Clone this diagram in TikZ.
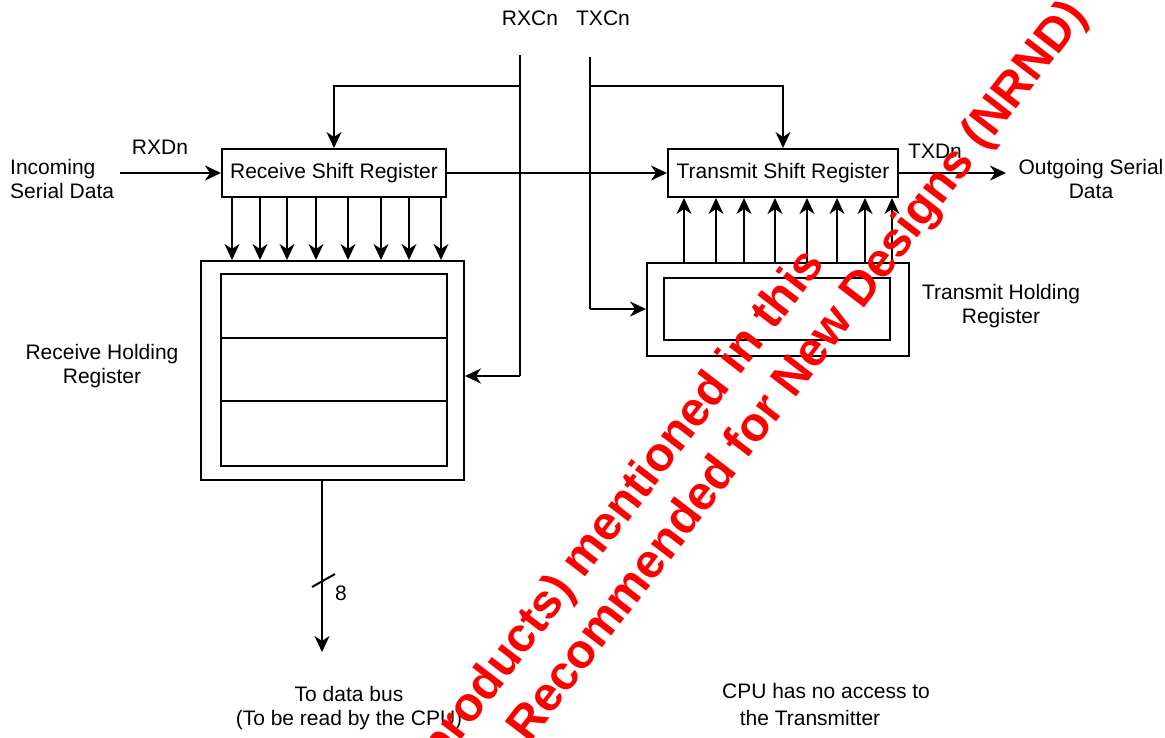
\documentclass[tikz,border=0pt]{standalone}
\usepackage{fontspec}
\setmainfont{Liberation Sans}
\usepackage{xcolor}
\definecolor{ColW}{RGB}{255,0,0}
\usetikzlibrary{arrows.meta}
\tikzstyle{Reg}=[draw,line width=2pt,inner sep=0pt,minimum height=48pt,
font=\fontsize{21}{24}\selectfont]
\tikzstyle{Cell}=[draw,line width=2pt,inner sep=0pt]
\tikzstyle{Edge}=[draw,line width=2pt]
\tikzstyle{Arrow}=[Edge,-{Stealth[length=16pt,width=15pt,inset=5pt]}]
\tikzstyle{NodeST}=[font=\fontsize{21}{24}\selectfont,inner sep=0pt,align=center]
\tikzstyle{Mark}=[font=\bfseries\fontsize{48}{56}\selectfont,text=ColW,
inner sep=0pt,rotate=52.5]

\begin{document}
\begin{tikzpicture}[x=1pt,y=-1pt]
            \useasboundingbox(0,0)rectangle(1165,738);
            % registers
            \node[Reg,minimum width=224pt](rsr)at(334,173)
                {Receive Shift Register};
            \node[Reg,minimum width=230pt](tsr)at(783,173)
                {Transmit Shift Register};
            \node[Cell,minimum width=263pt,minimum height=219pt](rhr)at(332.5,370.5){};
            \node[Cell,minimum width=226pt,minimum height=64pt](rc1)at(334,306){};
            \node[Cell,minimum width=226pt,minimum height=63pt](rc2)at(334,369.5){};
            \node[Cell,minimum width=226pt,minimum height=65pt](rc3)at(334,433.5){};
            \node[Cell,minimum width=262pt,minimum height=93pt](thr)at(778,309.5){};
            \node[Cell,minimum width=226pt,minimum height=62pt](thc)at(777,309){};
            % clock lines and free ends
            \coordinate(rxt)at(520,55);
            \coordinate(rxm)at(520,86);
            \coordinate(rxb)at(520,376);
            \coordinate(txt)at(590,57);
            \coordinate(txm)at(590,86);
            \coordinate(txb)at(590,309);
            \coordinate(inD)at(120,173);
            \coordinate(outD)at(1006,173);
            \coordinate(bus)at(322,652);
            % labels
            \node[NodeST](rxc)at(530,18){RXCn};
            \node[NodeST](txc)at(603,18){TXCn};
            \node[NodeST](rxd)at(160,147){RXDn};
            \node[NodeST](txd)at(935,151){TXDn};
            \node[NodeST,anchor=west,align=left](inL)at(10,179)
                {Incoming\\Serial Data};
            \node[NodeST](outL)at(1091,179){Outgoing Serial\\Data};
            \node[NodeST](rhrL)at(102,366){Receive Holding\\Register};
            \node[NodeST](thrL)at(1001,306){Transmit Holding\\Register};
            \node[NodeST](busL)at(349,708){To data bus\\(To be read by the CPU)};
            \node[NodeST](cpu1)at(826,691){CPU has no access to};
            \node[NodeST](cpu2)at(810,718){the Transmitter};
            \node[NodeST](w8)at(341,593){8};
            % connectors
            \draw[Edge](rxt)--(rxb);
            \draw[Edge](txt)--(txb);
            \draw[Arrow](rxm)-|(rsr.north);
            \draw[Arrow](txm)-|(tsr.north);
            \draw[Arrow](rxb)--(rxb-|rhr.east);
            \draw[Arrow](txb)--(txb-|thr.west);
            \draw[Arrow](inD)--(rsr.west);
            \draw[Arrow](rsr.east)--(tsr.west);
            \draw[Arrow](tsr.east)--(outD);
            \foreach \x in {232,260,287,316,348,381,409,441}
                \draw[Arrow](\x,0|-rsr.south)--(\x,0|-rhr.north);
            \foreach \x in {684,716,744,775,807,837,865,892}
                \draw[Arrow](\x,0|-thr.north)--(\x,0|-tsr.south);
            \draw[Arrow](bus|-rhr.south)--(bus);
            \draw[Edge](312,587)--(335,574);
            %
            \begin{scope}
                \clip(0,0)rectangle(1165,738);
                \node[Mark,anchor=base east](wm1)at(826,264)
                    {products) mentioned in this};
                \node[Mark,anchor=base east](wm2)at(1088,16)
                    {Not Recommended for New Designs (NRND)};
            \end{scope}
\end{tikzpicture}
\end{document}
